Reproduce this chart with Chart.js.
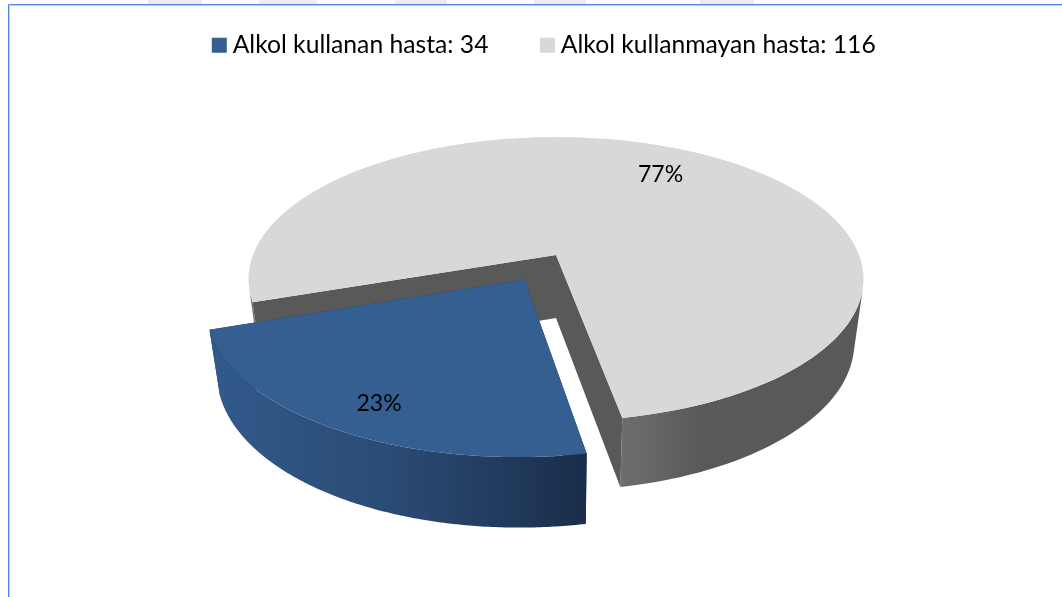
<!DOCTYPE html>
<html>
<head>
<meta charset="utf-8">
<style>
  html, body { margin: 0; padding: 0; background: #fff; overflow: hidden; }
  #wrap { position: relative; width: 1062px; height: 597px; overflow: hidden; }
  #frameTop { position: absolute; left: 8px; right: 0; top: 4px; height: 1px; background: #4f8ade; box-shadow: 0 1px 0 #b5cff4; }
  #frameLeft { position: absolute; left: 8px; top: 4px; bottom: 0; width: 1px; background: #4f8ade; box-shadow: 1px 0 0 #b5cff4; }
  .mark { position: absolute; top: 0; height: 4px; background: #ececec; }
</style>
<script src="https://cdn.jsdelivr.net/npm/chart.js@4"></script>
</head>
<body>
<div id="wrap">
  <canvas id="pie" width="1062" height="597"></canvas>
  <div class="mark" style="left:148px;width:54px"></div>
  <div class="mark" style="left:259px;width:58px"></div>
  <div class="mark" style="left:395px;width:52px"></div>
  <div class="mark" style="left:534px;width:52px"></div>
  <div class="mark" style="left:700px;width:54px"></div>
  <div id="frameTop"></div>
  <div id="frameLeft"></div>
</div>
<script>
const categories = ['Alkol kullanan hasta', 'Alkol kullanmayan hasta'];
const patients = [34, 116];
const sliceColors = ['#365f91', '#d8d8d8'];
const labelReach = [0.83, 0.76];
const labelTurn = [-2, 0];

// tilted disc
const view = { cx: 556, cy: 255, rx: 303, a: 138, b: 0.17, drop: 63, xShrink: 0.97, yGrow: 1.037 };
const RADIUS = 200;
const OFFSET = 40;
const TOTAL = patients.reduce((s, v) => s + v, 0);

function project(u, v, bottom) {
  const k = 1 - view.b * v;
  if (bottom) {
    return [view.cx + view.xShrink * view.rx * u / k, view.cy + view.drop + view.yGrow * view.a * v / k];
  }
  return [view.cx + view.rx * u / k, view.cy + view.a * v / k];
}

function sliceGeom(arc) {
  const p = arc.getProps(['startAngle', 'endAngle', 'outerRadius']);
  const mid = (p.startAngle + p.endAngle) / 2;
  const off = (arc.options.offset || 0) / p.outerRadius;
  return { start: p.startAngle, end: p.endAngle, mid, ou: Math.cos(mid) * off, ov: Math.sin(mid) * off };
}

function rimPoint(g, t, r, bottom) {
  return project(g.ou + Math.cos(t) * r, g.ov + Math.sin(t) * r, bottom);
}

function tracePoly(ctx, pts) {
  pts.forEach((p, i) => i ? ctx.lineTo(p[0], p[1]) : ctx.moveTo(p[0], p[1]));
  ctx.closePath();
}

function fillPoly(ctx, pts, style) {
  ctx.beginPath();
  tracePoly(ctx, pts);
  ctx.fillStyle = style;
  ctx.fill();
}

function signedArea(pts) {
  let s = 0;
  pts.forEach((p, i) => {
    const q = pts[(i + 1) % pts.length];
    s += p[0] * q[1] - q[0] * p[1];
  });
  return s;
}

function wallStyle(ctx, i) {
  if (i === 0) {
    const g = ctx.createLinearGradient(218, 0, 586, 0);
    g.addColorStop(0, '#31598a');
    g.addColorStop(0.5, '#2a4a73');
    g.addColorStop(1, '#1a2d4a');
    return g;
  }
  const g = ctx.createLinearGradient(620, 0, 700, 0);
  g.addColorStop(0, '#6e6e6e');
  g.addColorStop(1, '#595959');
  return g;
}

function drawCuts(ctx, g, i) {
  [g.start, g.end].forEach(t => {
    fillPoly(ctx, [rimPoint(g, t, 0, false), rimPoint(g, t, 1, false), rimPoint(g, t, 1, true), rimPoint(g, t, 0, true)],
      i === 0 ? '#1f3552' : '#595959');
  });
}

function drawSlice(ctx, arc, i) {
  const g = sliceGeom(arc);
  const steps = 160;
  const dt = (g.end - g.start) / steps;
  // the pulled out slice hides its own cuts behind the rim
  if (i === 0) drawCuts(ctx, g, i);
  // outer rim, front facing part only, one path so there are no seams
  ctx.beginPath();
  for (let s = 0; s < steps; s++) {
    const t = g.start + s * dt;
    const quad = [rimPoint(g, t, 1, false), rimPoint(g, t + dt, 1, false), rimPoint(g, t + dt, 1, true), rimPoint(g, t, 1, true)];
    if (signedArea(quad) < 0) tracePoly(ctx, quad);
  }
  ctx.fillStyle = wallStyle(ctx, i);
  ctx.fill();
  if (i !== 0) drawCuts(ctx, g, i);
  // top face
  const top = [rimPoint(g, g.start, 0, false)];
  for (let s = 0; s <= steps; s++) top.push(rimPoint(g, g.start + s * dt, 1, false));
  fillPoly(ctx, top, sliceColors[i]);
}

const tiltedPie = {
  id: 'tiltedPie',
  beforeDatasetDraw(chart, args) {
    const ctx = chart.ctx;
    const arcs = chart.getDatasetMeta(args.index).data;
    ctx.save();
    drawSlice(ctx, arcs[1], 1);
    drawSlice(ctx, arcs[0], 0);
    ctx.fillStyle = '#000';
    ctx.font = '23px Lato';
    ctx.textAlign = 'center';
    ctx.textBaseline = 'middle';
    arcs.forEach((arc, i) => {
      const g = sliceGeom(arc);
      const p = rimPoint(g, g.mid + labelTurn[i] * Math.PI / 180, labelReach[i], false);
      ctx.fillText(Math.round(patients[i] / TOTAL * 100) + '%', p[0], p[1] + 1);
    });
    ctx.restore();
    return false;
  }
};

new Chart(document.getElementById('pie'), {
  type: 'pie',
  data: {
    labels: categories,
    datasets: [{ data: patients, backgroundColor: sliceColors, borderWidth: 0, offset: [OFFSET, 0] }]
  },
  options: {
    responsive: false,
    animation: false,
    rotation: 169.5,
    radius: RADIUS,
    layout: { padding: { left: 32, top: -25 } },
    plugins: {
      tooltip: { enabled: false },
      legend: {
        position: 'top',
        labels: {
          font: { family: 'Lato', size: 24.7 },
          color: '#000',
          boxWidth: 2,
          boxHeight: 2,
          padding: 58,
          generateLabels: () => categories.map((c, i) => ({
            text: c + ': ' + patients[i],
            fillStyle: sliceColors[i],
            strokeStyle: sliceColors[i],
            lineWidth: 13,
            hidden: false,
            index: i
          }))
        }
      }
    }
  },
  plugins: [tiltedPie]
});
</script>
</body>
</html>
